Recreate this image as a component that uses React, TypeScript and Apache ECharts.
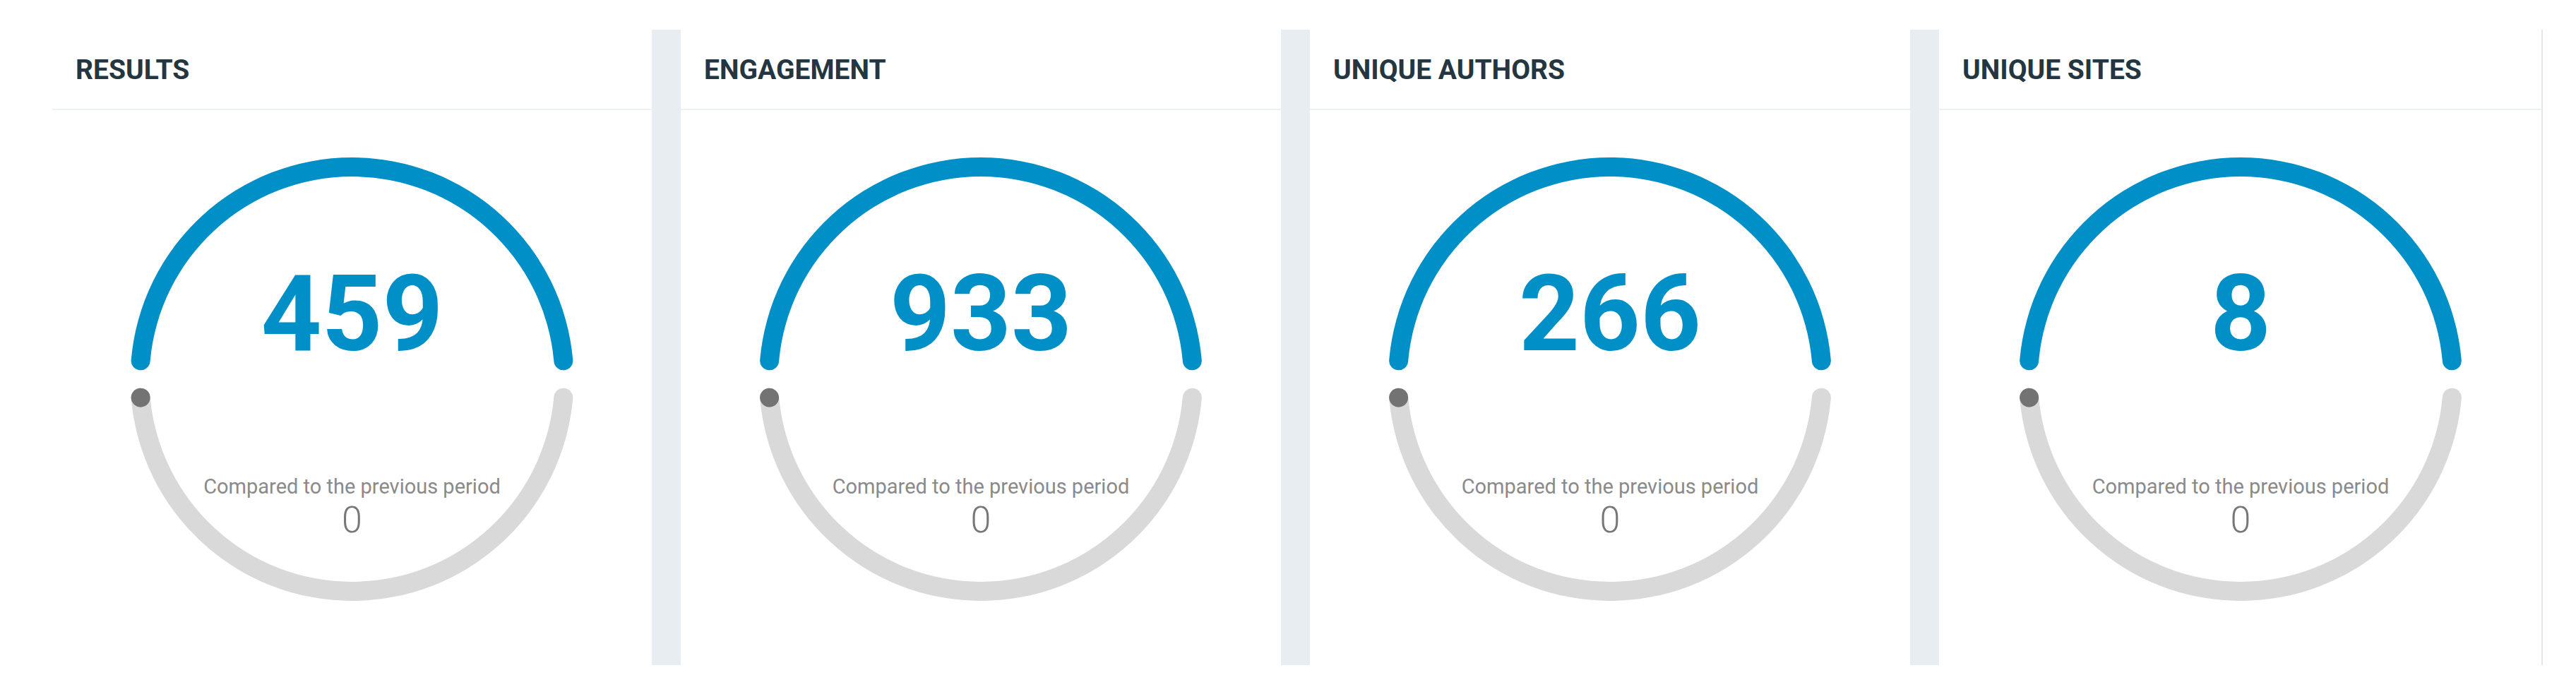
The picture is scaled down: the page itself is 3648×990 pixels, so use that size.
import React, { useEffect, useRef } from 'react';
import * as echarts from 'echarts';

// ---- data ----
const titles = ['RESULTS', 'ENGAGEMENT', 'UNIQUE AUTHORS', 'UNIQUE SITES'];
const values = [459, 933, 266, 8];
const changes = [0, 0, 0, 0];
const compareLabel = 'Compared to the previous period';

// ---- layout / style ----
const W = 3648;
const H = 990;
const panelLefts = [74, 964, 1855, 2746];
const panelRights = [923, 1814, 2705, 3600];
const stripW = 41;
const panelTop = 42;
const panelBottom = 942;
const headerY = 155;
const titleY = 99;
const gaugeCY = 537;
const R = 314;
const LW = 27;
const BLUE = '#0090c7';
const GREY_ARC = '#d9d9d9';
const DOT = '#737373';
const STRIP = '#e8edf1';

export default function App() {
  const ref = useRef<HTMLDivElement>(null);

  useEffect(() => {
    if (!ref.current) return;
    const chart = echarts.init(ref.current, null, { renderer: 'svg' });

    const graphic: any[] = [];
    // grey separator strips
    for (let i = 0; i < panelRights.length - 1; i++) {
      graphic.push({
        type: 'rect',
        z: 0,
        shape: { x: panelRights[i], y: panelTop, width: stripW, height: panelBottom - panelTop },
        style: { fill: STRIP },
      });
    }
    // header separators and titles
    titles.forEach((t, i) => {
      graphic.push({
        type: 'line',
        z: 0,
        shape: { x1: panelLefts[i], y1: headerY, x2: panelRights[i], y2: headerY },
        style: { stroke: '#eef1f3', lineWidth: 2 },
      });
      graphic.push({
        type: 'text',
        z: 1,
        x: panelLefts[i] + 33,
        y: titleY,
        style: {
          text: t,
          fill: '#243640',
          font: 'bold 39px Roboto',
          verticalAlign: 'middle',
          align: 'left',
        },
      });
    });
    // right border of last panel
    graphic.push({
      type: 'line',
      z: 0,
      shape: { x1: 3600, y1: panelTop, x2: 3600, y2: panelBottom },
      style: { stroke: '#e4e7ea', lineWidth: 2 },
    });

    const hidden = {
      pointer: { show: false },
      axisTick: { show: false },
      splitLine: { show: false },
      axisLabel: { show: false },
      title: { show: false },
      anchor: { show: false },
    };

    const series: any[] = [];
    values.forEach((v, i) => {
      const cx = (panelLefts[i] + panelRights[i]) / 2;
      series.push({
        type: 'gauge',
        center: [cx, gaugeCY],
        radius: R,
        startAngle: 175,
        endAngle: 5,
        min: 0,
        max: v || 1,
        axisLine: { show: true, roundCap: true, lineStyle: { width: LW, color: [[1, BLUE]] } },
        progress: { show: false },
        ...hidden,
        detail: {
          offsetCenter: [0, -92],
          fontSize: 150,
          fontWeight: 'bold',
          fontFamily: 'Roboto',
          color: BLUE,
          formatter: (val: number) => String(val),
        },
        data: [{ value: v }],
      });
      series.push({
        type: 'gauge',
        center: [cx, gaugeCY],
        radius: R,
        startAngle: 185,
        endAngle: 355,
        clockwise: false,
        min: 0,
        max: 100,
        axisLine: { show: true, roundCap: true, lineStyle: { width: LW, color: [[1, GREY_ARC]] } },
        progress: { show: true, roundCap: true, overlap: true, width: LW, itemStyle: { color: DOT } },
        ...hidden,
        detail: {
          offsetCenter: [0, 180],
          fontWeight: 'normal',
          formatter: (val: number) => `{a|${compareLabel}}\n{b|${val}}`,
          rich: {
            a: { fontSize: 29, fontFamily: 'Roboto', fontWeight: 'normal', color: '#8a8a8a', lineHeight: 38, align: 'center' },
            b: { fontSize: 52, fontFamily: 'Roboto', fontWeight: 300, color: '#777777', lineHeight: 56, align: 'center' },
          },
        },
        data: [{ value: changes[i] }],
      });
    });

    chart.setOption({
      animation: false,
      backgroundColor: '#ffffff',
      graphic,
      series,
    });

    return () => chart.dispose();
  }, []);

  return (
    <div
      ref={ref}
      style={{ position: 'absolute', left: 0, top: 0, width: W, height: H, background: '#fff' }}
    />
  );
}
